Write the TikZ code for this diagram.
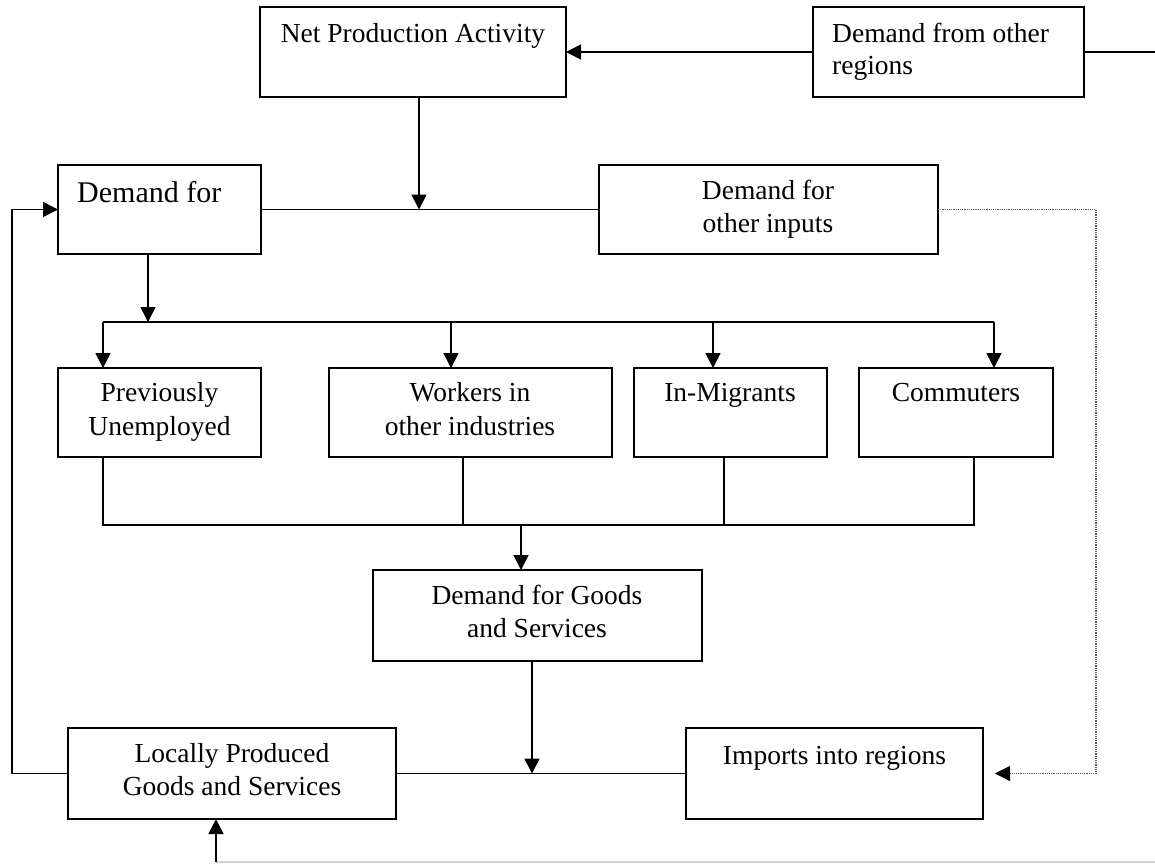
\documentclass[tikz,border=0pt]{standalone}
\usepackage{fontspec}
\setmainfont{Liberation Serif}
\usetikzlibrary{arrows.meta,calc}
\tikzset{
  box/.style={draw=black, line width=1.8pt, rectangle, inner sep=0pt, outer sep=0pt, anchor=north west},
  txt/.style={inner sep=0pt, font=\fontsize{27.5}{33}\selectfont},
  bigtxt/.style={inner sep=0pt, font=\fontsize{30}{36}\selectfont},
  conn/.style={line width=1.6pt, black},
  arr/.style={conn, -{Triangle[width=15pt,length=15pt]}},
  dotarr/.style={line width=1.2pt, gray!70!black, densely dotted, -{Triangle[width=15pt,length=15pt,fill=black,color=black]}},
  faint/.style={line width=1.4pt, black!18}
}
\begin{document}
\begin{tikzpicture}[x=1pt,y=-1pt]
\useasboundingbox[fill=white] (0,0) rectangle (1155,863);
% boxes
\node[box, minimum width=306, minimum height=90] (np) at (260,7) {};
\node[box, minimum width=271, minimum height=90] (dor) at (813,7) {};
\node[box, minimum width=203, minimum height=89] (df) at (58,165) {};
\node[box, minimum width=339, minimum height=89] (doi) at (599,165) {};
\node[box, minimum width=203, minimum height=89] (pu) at (58,368) {};
\node[box, minimum width=283, minimum height=89] (wo) at (329,368) {};
\node[box, minimum width=193, minimum height=89] (im) at (634,368) {};
\node[box, minimum width=194, minimum height=89] (co) at (859,368) {};
\node[box, minimum width=329, minimum height=91] (dg) at (373,570) {};
\node[box, minimum width=328, minimum height=91] (lp) at (68,728) {};
\node[box, minimum width=297, minimum height=91] (imp) at (686,728) {};
% texts
\node[txt, anchor=base] (tnp) at (413,42) {Net Production Activity};
\node[txt, anchor=base west] (tdor1) at (832,42) {Demand from other};
\node[txt, anchor=base west] (tdor2) at (832,74) {regions};
\node[bigtxt, anchor=base west] (tdf) at (77,202) {Demand for};
\node[txt, anchor=base] (tdoi1) at (768,199) {Demand for};
\node[txt, anchor=base] (tdoi2) at (768,232) {other inputs};
\node[txt, anchor=base] (tpu1) at (159.5,401) {Previously};
\node[txt, anchor=base] (tpu2) at (159.5,435) {Unemployed};
\node[txt, anchor=base] (two1) at (470,401) {Workers in};
\node[txt, anchor=base] (two2) at (470,435) {other industries};
\node[txt, anchor=base] (tim) at (730,401) {In-Migrants};
\node[txt, anchor=base] (tco) at (956,401) {Commuters};
\node[txt, anchor=base] (tdg1) at (537,604) {Demand for Goods};
\node[txt, anchor=base] (tdg2) at (537,637) {and Services};
\node[txt, anchor=base] (tlp1) at (232,762) {Locally Produced};
\node[txt, anchor=base] (tlp2) at (232,795) {Goods and Services};
\node[txt, anchor=base] (timp) at (834.5,764) {Imports into regions};
% junction coordinates
\coordinate (edgeR) at (1155,52);
\coordinate (jnp) at (419,209.5);
\coordinate (jleft) at (12,0);
\coordinate (tb0) at (148,322);
\coordinate (tb1) at (103,322);
\coordinate (tb2) at (451,322);
\coordinate (tb3) at (713,322);
\coordinate (tb4) at (994,322);
\coordinate (bb1) at (103,525);
\coordinate (bb2) at (463,525);
\coordinate (bb3) at (724,525);
\coordinate (bb4) at (974,525);
\coordinate (bbg) at (521,525);
\coordinate (jlow) at (532,773.5);
\coordinate (dotc) at (1096,209.5);
\coordinate (dtip) at (995,773.5);
\coordinate (botL) at (216,862);
\coordinate (botR) at (1155,862);
% connectors
\draw[arr] (dor.west) -- (np.east);
\draw[conn] (dor.east) -- (edgeR);
\draw[conn] (df.east) -- (doi.west);
\draw[arr] (jnp |- np.south) -- (jnp);
\draw[arr] (lp.west) -- (lp.west -| jleft) |- (df.west);
\draw[arr] (tb0 |- df.south) -- (tb0);
\draw[conn] (tb1) -- (tb4);
\draw[arr] (tb1) -- (tb1 |- pu.north);
\draw[arr] (tb2) -- (tb2 |- wo.north);
\draw[arr] (tb3) -- (tb3 |- im.north);
\draw[arr] (tb4) -- (tb4 |- co.north);
\draw[conn] (bb1 |- pu.south) -- (bb1) -- (bb4) -- (bb4 |- co.south);
\draw[conn] (bb2 |- wo.south) -- (bb2);
\draw[conn] (bb3 |- im.south) -- (bb3);
\draw[arr] (bbg) -- (bbg |- dg.north);
\draw[arr] (jlow |- dg.south) -- (jlow);
\draw[conn] (lp.east) -- (imp.west);
\draw[dotarr] (doi.east) -- (dotc) |- (dtip);
\draw[faint] (botL) -- (botR);
\draw[arr] (botL) -- (botL |- lp.south);
\end{tikzpicture}
\end{document}
